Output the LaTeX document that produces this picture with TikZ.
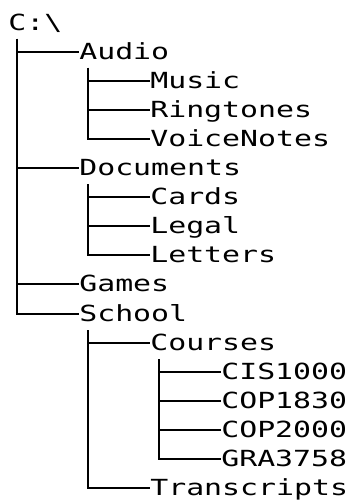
\documentclass[tikz,border=0pt]{standalone}
\usepackage{fontspec}
\newfontfamily\treefont[FakeStretch=1.345]{DejaVu Sans Mono}
\usetikzlibrary{calc}
\begin{document}
\begin{tikzpicture}[x=1pt,y=-1pt,
  item/.style={anchor=base west, inner sep=0pt, font=\treefont\fontsize{22.2}{23}\selectfont},
  branch/.style={line width=2pt, black}]
\useasboundingbox (0,0) rectangle (347,503);
% column left edges: 8.1, 79.1, 150.1, 221.1 ; stems at +8.9
\node[item] (root)   at (8.1,30.3)   {C:\textbackslash};
\node[item] (audio)  at (79.1,59.3)  {Audio};
\node[item] (music)  at (150.1,88.3) {Music};
\node[item] (ring)   at (150.1,117.3){Ringtones};
\node[item] (voice)  at (150.1,146.3){VoiceNotes};
\node[item] (docs)   at (79.1,175.3) {Documents};
\node[item] (cards)  at (150.1,204.3){Cards};
\node[item] (legal)  at (150.1,233.3){Legal};
\node[item] (letters)at (150.1,262.3){Letters};
\node[item] (games)  at (79.1,291.3) {Games};
\node[item] (school) at (79.1,321.3) {School};
\node[item] (courses)at (150.1,350.3){Courses};
\node[item] (cis)    at (221.1,379.3){CIS1000};
\node[item] (copa)   at (221.1,408.3){COP1830};
\node[item] (copb)   at (221.1,437.3){COP2000};
\node[item] (gra)    at (221.1,466.3){GRA3758};
\node[item] (trans)  at (150.1,495.3){Transcripts};
% connectors
\foreach \p/\c in {root/audio, root/docs, root/games, root/school,
                   audio/music, audio/ring, audio/voice,
                   docs/cards, docs/legal, docs/letters,
                   school/courses, school/trans,
                   courses/cis, courses/copa, courses/copb, courses/gra}
  \draw[branch] ($(\p.base west)+(8.9,8.7)$) |- ($(\c.base west)+(0,-7.3)$);
\end{tikzpicture}
\end{document}
